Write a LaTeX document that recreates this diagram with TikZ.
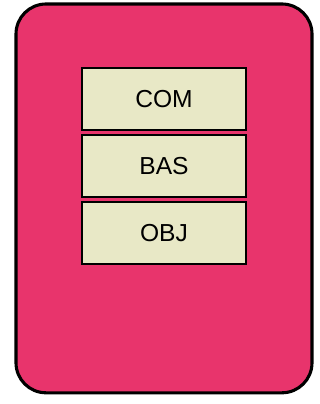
\documentclass[tikz,border=0pt]{standalone}
\usepackage{fontspec}
\setmainfont{Liberation Sans}
\usetikzlibrary{positioning}
\definecolor{cardpink}{RGB}{232,52,108}
\definecolor{slotfill}{RGB}{232,232,198}

\begin{document}
\begin{tikzpicture}[
    card/.style={draw, line width=2.2pt, fill=cardpink, rounded corners=0.75cm},
    slot/.style={draw, line width=1.5pt, fill=slotfill, minimum width=4.1cm, minimum height=1.55cm,
      font=\fontsize{17.5}{20}\selectfont, inner sep=0pt}
  ]
    \useasboundingbox (0,0) rectangle (8,10.1);
    \draw[card] (0.4,0.28) rectangle (7.8,10.0);
    \node[slot] (com) at (4.1,7.62) {COM};
    \node[slot] (bas) at (4.1,5.95) {BAS};
    \node[slot] (obj) at (4.1,4.27) {OBJ};
  \end{tikzpicture}
\end{document}
